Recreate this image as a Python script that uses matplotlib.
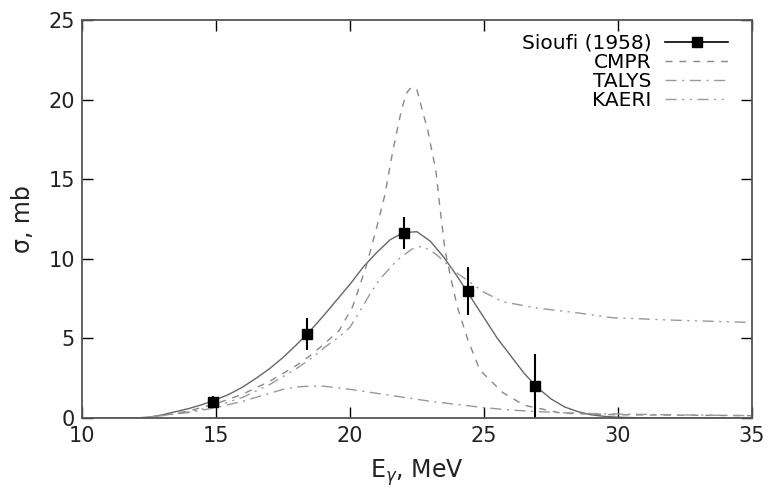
import matplotlib
matplotlib.use('Agg')
import matplotlib.pyplot as plt
from matplotlib.lines import Line2D

# Sioufi (1958) experimental points
exp_e = [14.9, 18.4, 22.0, 24.4, 26.9]
exp_sig = [1.0, 5.3, 11.6, 8.0, 2.0]
exp_err = [0.4, 1.0, 1.0, 1.5, 2.0]

# fit through Sioufi data
fit_e = [10, 11, 12, 12.5, 13, 13.5, 14, 14.5, 15, 15.5, 16, 16.5, 17, 17.5, 18, 18.5,
         19, 19.5, 20, 20.5, 21, 21.5, 22, 22.5, 23, 23.5, 24, 24.5, 25, 25.5, 26, 26.5,
         27, 27.5, 28, 28.5, 29, 29.5, 30, 31, 35]
fit_sig = [0, 0, 0, 0.05, 0.2, 0.4, 0.6, 0.85, 1.15, 1.5, 1.95, 2.5, 3.1, 3.8, 4.6, 5.45,
           6.4, 7.4, 8.4, 9.5, 10.4, 11.2, 11.65, 11.7, 11.1, 10.1, 8.9, 7.6, 6.3, 5.0, 3.9, 2.8,
           1.9, 1.2, 0.7, 0.4, 0.2, 0.1, 0.05, 0, 0]

# CMPR
cmpr_e = [10, 12, 12.5, 13, 14, 15, 16, 17, 18, 18.5, 19, 19.6, 20.1, 20.6, 21.0, 21.3,
          21.6, 21.9, 22.1, 22.3, 22.5, 22.7, 22.9, 23.05, 23.2, 23.35, 23.55, 23.8, 24.0,
          24.4, 24.85, 25.7, 26.5, 27.9, 30, 35]
cmpr_sig = [0, 0, 0.05, 0.15, 0.45, 0.9, 1.5, 2.3, 3.3, 3.9, 4.6, 5.5, 7.0, 9.5, 12.0, 14.0,
            16.8, 19.2, 20.4, 20.8, 20.6, 19.3, 18.1, 16.8, 15.6, 13.3, 10.5, 8.5, 7.0,
            4.9, 3.0, 1.6, 0.8, 0.3, 0.2, 0.15]

# TALYS
talys_e = [10, 12, 12.5, 13, 14, 15, 16, 17, 17.5, 18, 18.5, 19, 19.5, 20, 21, 22, 23, 24,
           25, 26, 27, 28, 29, 30, 32, 35]
talys_sig = [0, 0, 0.05, 0.15, 0.35, 0.65, 1.05, 1.55, 1.8, 1.95, 2.0, 2.0, 1.9, 1.8, 1.55,
             1.3, 1.05, 0.85, 0.65, 0.5, 0.4, 0.33, 0.28, 0.25, 0.2, 0.15]

# KAERI
kaeri_e = [10, 12, 12.5, 13, 14, 15, 16, 17, 18, 18.6, 19.1, 19.6, 20.0, 20.4, 20.75, 21.1,
           21.75, 22.3, 22.7, 23.2, 23.6, 24.0, 24.5, 25.0, 25.7, 27.0, 28.5, 29.8, 32, 35]
kaeri_sig = [0, 0, 0.05, 0.15, 0.4, 0.75, 1.3, 2.1, 3.1, 3.8, 4.5, 5.1, 5.7, 6.8, 7.8, 8.7,
             9.9, 10.6, 10.8, 10.3, 9.7, 9.1, 8.5, 7.9, 7.3, 6.9, 6.6, 6.3, 6.15, 6.0]

plt.rcParams['font.family'] = 'DejaVu Sans'
fig = plt.figure(figsize=(7.69, 4.88), dpi=100)
ax = fig.add_axes([82 / 769, 1 - 418 / 488, 670 / 769, 398 / 488])

dash = (0, (5, 5))
dot1 = (0, (8, 4, 1.5, 4))
dot2 = (0, (8, 4, 1.5, 4, 1.5, 4))

ax.plot(fit_e, fit_sig, color='#666666', lw=1.0)
ax.plot(cmpr_e, cmpr_sig, color='#888888', lw=1.0, ls=dash)
ax.plot(talys_e, talys_sig, color='#999999', lw=1.0, ls=dot1)
ax.plot(kaeri_e, kaeri_sig, color='#999999', lw=1.0, ls=dot2)
ax.errorbar(exp_e, exp_sig, yerr=exp_err, fmt='s', color='k', ms=7, elinewidth=1.5, capsize=0)

handles = [
    Line2D([], [], color='k', lw=1.2, marker='s', ms=7),
    Line2D([], [], color='#888888', lw=1.0, ls=dash),
    Line2D([], [], color='#999999', lw=1.0, ls=dot1),
    Line2D([], [], color='#999999', lw=1.0, ls=dot2),
]
ax.legend(handles, ['Sioufi (1958)', 'CMPR', 'TALYS', 'KAERI'], loc='upper right',
          bbox_to_anchor=(1.0, 1.026), frameon=False, markerfirst=False,
          handlelength=3.1, fontsize=14.5, labelspacing=0.0, borderaxespad=0.8,
          handletextpad=0.7)

ax.set_xlim(10, 35)
ax.set_ylim(0, 25)
ax.set_xticks([10, 15, 20, 25, 30, 35])
ax.set_yticks([0, 5, 10, 15, 20, 25])
ax.tick_params(direction='in', length=8, width=1, top=True, right=True, labelsize=15,
               colors='k', labelcolor='#222222')
ax.tick_params(axis='x', pad=6)
ax.tick_params(axis='y', pad=5)
for s in ax.spines.values():
    s.set_linewidth(1.3)
    s.set_color('#555555')
ax.set_xlabel(r'E$_\gamma$, MeV', fontsize=17, color='#222222', labelpad=8)
ax.set_ylabel(r'σ, mb', fontsize=17, color='#222222', labelpad=10)

fig.savefig('out.png', dpi=100)
